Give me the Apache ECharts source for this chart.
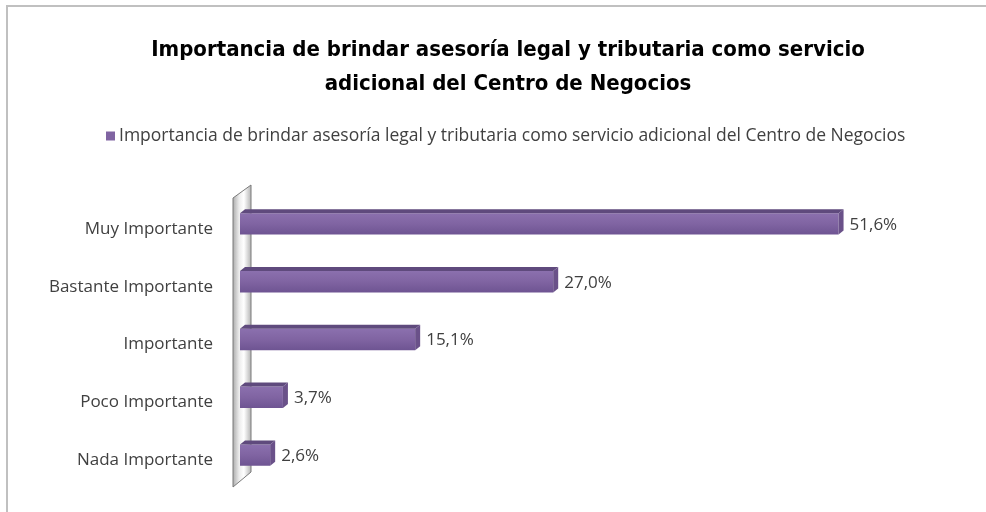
<!DOCTYPE html>
<html>
<head>
<meta charset="utf-8">
<script src="https://cdn.jsdelivr.net/npm/echarts@6/dist/echarts.min.js"></script>
<style>
  html, body { margin: 0; padding: 0; background: #ffffff; }
  #chart { width: 986px; height: 512px; }
</style>
</head>
<body>
<div id="chart"></div>
<script>
// Survey answers and their shares (%)
const categories = ['Muy Importante', 'Bastante Importante', 'Importante', 'Poco Importante', 'Nada Importante'];
const values = [51.6, 27.0, 15.1, 3.7, 2.6];
const seriesName = 'Importancia de brindar asesoría legal y tributaria como servicio adicional del Centro de Negocios';
const titleText = 'Importancia de brindar asesoría legal y tributaria como servicio\nadicional del Centro de Negocios';

const TITLE_FONT = '"DejaVu Sans Condensed", "DejaVu Sans", sans-serif';
const FONT = '"Open Sans", Lato, sans-serif';
const GRID = { left: 240, top: 193, right: 50, bottom: 30 };

const chart = echarts.init(document.getElementById('chart'));

// Extruded bar: front face, top face and right-hand cap
function renderBar(params, api) {
  const val = api.value(0);
  const idx = api.value(1);
  const start = api.coord([0, idx]);
  const end = api.coord([val, idx]);
  const band = api.size([0, 1])[1];
  const h = band * 0.44;
  const d = 5;
  const x0 = start[0];
  const x1 = end[0];
  const yTop = start[1] - h / 2;
  const yBot = start[1] + h / 2;
  const fy = yTop + 4;
  const label = val.toFixed(1).replace('.', ',') + '%';
  return {
    type: 'group',
    children: [
      {
        type: 'rect',
        shape: { x: x0, y: fy, width: x1 - x0, height: yBot - fy },
        style: {
          fill: new echarts.graphic.LinearGradient(0, 0, 0, 1, [
            { offset: 0, color: '#8b70ae' },
            { offset: 0.5, color: '#8064a2' },
            { offset: 1, color: '#6e5492' }
          ])
        }
      },
      {
        type: 'polygon',
        shape: { points: [[x0, fy], [x0 + d, yTop], [x1 + d, yTop], [x1, fy]] },
        style: { fill: '#5f4a7d' }
      },
      {
        type: 'polygon',
        shape: { points: [[x1, fy], [x1 + d, yTop], [x1 + d, yBot - 4], [x1, yBot]] },
        style: { fill: '#6a5189' }
      },
      {
        type: 'text',
        style: {
          x: x1 + d + 6, y: start[1] + 3,
          text: label,
          fill: '#404040',
          font: '17px ' + FONT,
          verticalAlign: 'middle',
          align: 'left'
        }
      }
    ]
  };
}

chart.setOption({
  animation: false,
  backgroundColor: '#ffffff',
  title: {
    text: titleText,
    left: 503,
    top: 28,
    textAlign: 'center',
    textStyle: {
      fontFamily: TITLE_FONT,
      fontWeight: 'bold',
      fontSize: 22,
      lineHeight: 34,
      color: '#000000'
    }
  },
  legend: {
    left: 101,
    top: 122,
    itemWidth: 9,
    itemHeight: 9,
    itemGap: 4,
    icon: 'rect',
    data: [seriesName],
    textStyle: { fontFamily: FONT, fontSize: 17.5, color: '#404040', padding: [0, 0, 0, -1] }
  },
  grid: GRID,
  xAxis: {
    type: 'value',
    min: 0,
    max: 60,
    show: false
  },
  yAxis: {
    type: 'category',
    data: categories,
    inverse: true,
    axisLine: { show: false },
    axisTick: { show: false },
    axisLabel: {
      margin: 27,
      fontFamily: FONT,
      fontSize: 17,
      color: '#404040',
      verticalAlign: 'top',
      lineHeight: 14
    }
  },
  series: [{
    name: seriesName,
    type: 'custom',
    z: 5,
    itemStyle: { color: '#8064a2' },
    encode: { x: 0, y: 1 },
    data: values.map((v, i) => [v, i]),
    renderItem: renderBar
  }]
});

// Chart frame and the side wall behind the bars, positioned from the grid
const yAxisModel = chart.getModel().getComponent('yAxis');
const half = yAxisModel.axis.getBandWidth() / 2;
const gl = chart.convertToPixel({ xAxisIndex: 0 }, 0);
const gt = chart.convertToPixel({ yAxisIndex: 0 }, 0) - half;
const gb = chart.convertToPixel({ yAxisIndex: 0 }, categories.length - 1) + half;

chart.setOption({
  graphic: [
    {
      type: 'rect',
      z: 0,
      shape: { x: 7, y: 6, width: 990, height: 520 },
      style: { fill: null, stroke: '#c0c0c0', lineWidth: 2 }
    },
    {
      type: 'polygon',
      z: 1,
      shape: { points: [[gl - 7, gt + 5], [gl + 11, gt - 8], [gl + 11, gb - 10], [gl - 7, gb + 5]] },
      style: {
        fill: new echarts.graphic.LinearGradient(0, 0, 1, 0, [
          { offset: 0, color: '#a8a8a8' },
          { offset: 0.35, color: '#ececec' },
          { offset: 0.6, color: '#ffffff' },
          { offset: 1, color: '#b0b0b0' }
        ]),
        stroke: '#7a7a7a',
        lineWidth: 1
      }
    }
  ]
});
</script>
</body>
</html>
